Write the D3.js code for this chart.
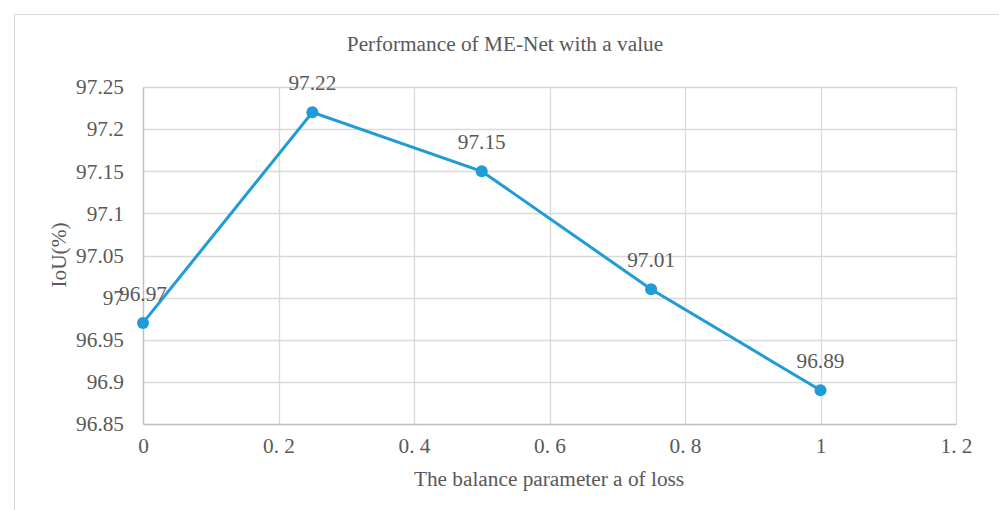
<!DOCTYPE html>
<html><head><meta charset="utf-8">
<script src="https://cdn.jsdelivr.net/npm/d3@7"></script>
<style>body{margin:0;background:#fff;}svg{display:block;} text{font-family:"Times New Roman","Liberation Serif",serif;}</style>
</head><body>
<svg id="c" width="999" height="510"></svg>
<script>
const xValues = [0, 0.25, 0.5, 0.75, 1];
const iouValues = [96.97, 97.22, 97.15, 97.01, 96.89];
const xTicks = [0, 0.2, 0.4, 0.6, 0.8, 1, 1.2];
const xTickLabels = ["0", "0. 2", "0. 4", "0. 6", "0. 8", "1", "1. 2"];
const yTicks = [96.85, 96.9, 96.95, 97, 97.05, 97.1, 97.15, 97.2, 97.25];
const yTickLabels = ["96.85", "96.9", "96.95", "97", "97.05", "97.1", "97.15", "97.2", "97.25"];

const svg = d3.select("#c");
const font = '"Times New Roman","Liberation Serif",serif';
const grey = "#595959";
const fs = 21.3;
const L = 143, R = 956, T = 87, B = 424;
const x = d3.scaleLinear().domain([0, 1.2]).range([L, R]);
const y = d3.scaleLinear().domain([96.85, 97.25]).range([B, T]);

// outer frame
svg.append("rect").attr("x", 14.5).attr("y", 14.5).attr("width", 1000).attr("height", 520)
  .attr("fill", "#fff").attr("stroke", "#d9d9d9").attr("stroke-width", 1);

// gridlines
svg.append("g").selectAll("line").data(yTicks.slice(1)).join("line")
  .attr("x1", L).attr("x2", R).attr("y1", d => Math.round(y(d)) + 0.5).attr("y2", d => Math.round(y(d)) + 0.5)
  .attr("stroke", "#d9d9d9").attr("stroke-width", 1.3);
svg.append("g").selectAll("line").data(xTicks.slice(1)).join("line")
  .attr("y1", T).attr("y2", B).attr("x1", d => Math.round(x(d)) + 0.5).attr("x2", d => Math.round(x(d)) + 0.5)
  .attr("stroke", "#d9d9d9").attr("stroke-width", 1.3);

// axes
const xAxis = d3.axisBottom(x).tickValues(xTicks).tickSize(0).tickPadding(14)
  .tickFormat((d, i) => xTickLabels[i]);
const gx = svg.append("g").attr("transform", `translate(0,${B})`).call(xAxis);
gx.attr("font-family", null).attr("font-size", null);
gx.select(".domain").attr("stroke", "#bfbfbf").attr("stroke-width", 1.5);
gx.selectAll("text").style("font-family", font).style("font-size", fs + "px").attr("fill", grey);

const yAxis = d3.axisLeft(y).tickValues(yTicks).tickSize(0).tickPadding(19)
  .tickFormat((d, i) => yTickLabels[i]);
const gy = svg.append("g").attr("transform", `translate(${L},0)`).call(yAxis);
gy.attr("font-family", null).attr("font-size", null);
gy.select(".domain").attr("stroke", "#bfbfbf").attr("stroke-width", 1.5);
gy.selectAll("text").style("font-family", font).style("font-size", fs + "px").attr("fill", grey);

// line
const pts = xValues.map((v, i) => [v, iouValues[i]]);
svg.append("path").datum(pts)
  .attr("d", d3.line().x(d => x(d[0])).y(d => y(d[1])))
  .attr("fill", "none").attr("stroke", "#1f9bd7").attr("stroke-width", 3);
svg.append("g").selectAll("circle").data(pts).join("circle")
  .attr("cx", d => x(d[0])).attr("cy", d => y(d[1])).attr("r", 6).attr("fill", "#1f9bd7");

// data labels
svg.append("g").selectAll("text").data(pts).join("text")
  .attr("x", d => x(d[0])).attr("y", d => y(d[1]) - 22)
  .attr("text-anchor", "middle").style("font-family", font).style("font-size", fs + "px").attr("fill", grey)
  .text(d => d[1].toFixed(2));

// titles
svg.append("text").attr("x", 505).attr("y", 51).attr("text-anchor", "middle")
  .style("font-family", font).style("font-size", fs + "px").attr("fill", grey).text("Performance of ME-Net with a value");
svg.append("text").attr("x", 549).attr("y", 486).attr("text-anchor", "middle")
  .style("font-family", font).style("font-size", fs + "px").attr("fill", grey).text("The balance parameter a of loss");
svg.append("text").attr("transform", "translate(66,255) rotate(-90)").attr("text-anchor", "middle")
  .style("font-family", font).style("font-size", fs + "px").attr("fill", grey).text("IoU(%)");
</script>
</body></html>
